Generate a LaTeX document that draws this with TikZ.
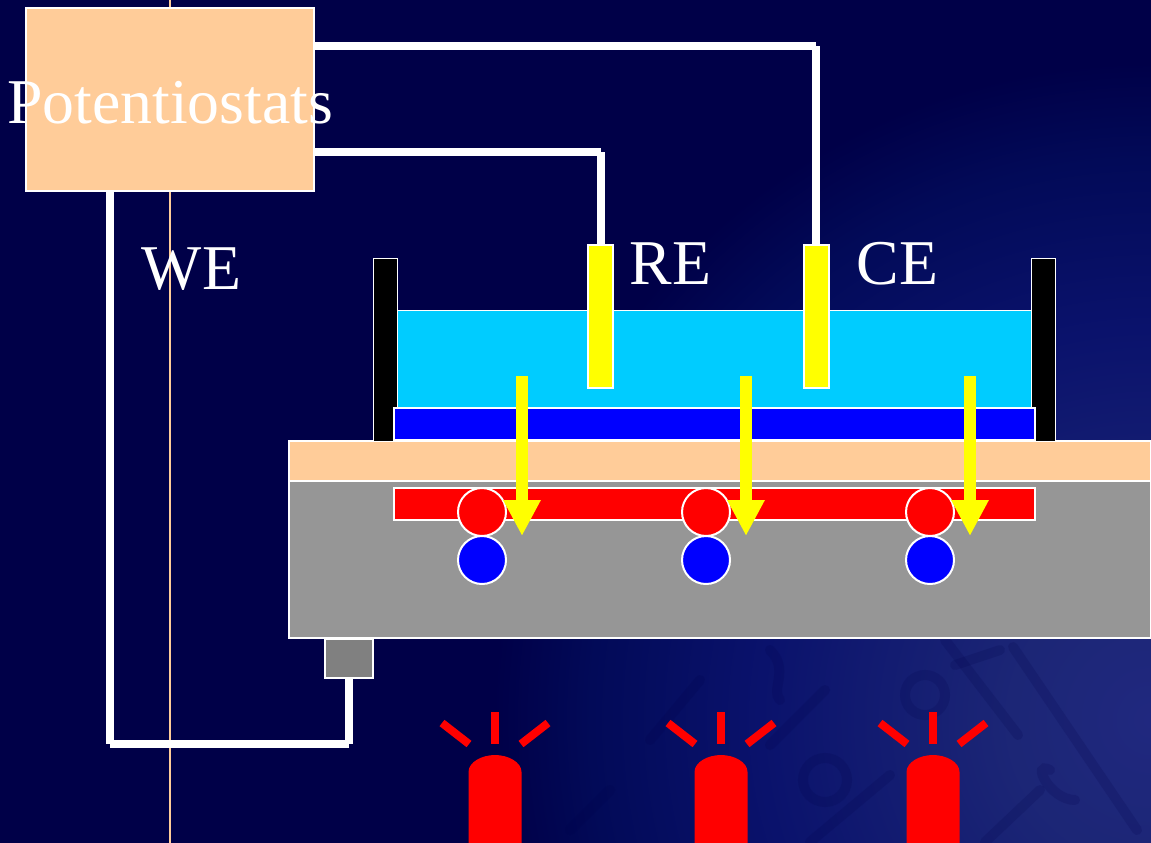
\documentclass[tikz,border=0pt]{standalone}
\usepackage{fontspec}
\setmainfont{Liberation Serif}
\usetikzlibrary{arrows.meta}
\definecolor{navy}{HTML}{000048}
\definecolor{peach}{HTML}{FFCC99}
\definecolor{slab}{HTML}{969696}
\definecolor{block}{HTML}{808080}
\definecolor{liquid}{HTML}{00CCFF}
\definecolor{pureyellow}{HTML}{FFFF00}
\definecolor{pureblue}{HTML}{0000FF}
\definecolor{pured}{HTML}{FF0000}
\definecolor{glowA}{HTML}{20287F}
\definecolor{glowB}{HTML}{1C2676}
\definecolor{glowC}{HTML}{0A126C}
\definecolor{glowD}{HTML}{020A58}
\pgfdeclareradialshading{glow}{\pgfpoint{0bp}{0bp}}{color(0bp)=(glowA); color(5bp)=(glowB); color(14bp)=(glowC); color(20bp)=(glowD); color(23.5bp)=(navy); color(50bp)=(navy)}
\begin{document}
\begin{tikzpicture}[
    x=0.02cm, y=-0.02cm,
    part/.style={draw=white, line width=0.04cm, inner sep=0, outer sep=0},
    electrode/.style={part, fill=pureyellow, minimum width=0.5cm, minimum height=2.86cm},
    wall/.style={draw=white, line width=0.02cm, fill=black, inner sep=0, minimum width=0.48cm, minimum height=3.66cm},
    layer/.style={part, minimum width=12.82cm, minimum height=0.64cm},
    ball/.style={circle, part, minimum size=0.96cm},
    label/.style={text=white, inner sep=0, anchor=base, font=\fontsize{36.3}{36}\selectfont},
    wire/.style={draw=white, line width=0.16cm},
    flow/.style={draw=pureyellow, fill=pureyellow, line width=0.24cm, -{Triangle[width=0.7cm,length=0.72cm]}},
    ray/.style={draw=pured, line width=0.16cm},
    mark line/.style={draw=navy, line width=0.2cm, opacity=0.16, line cap=round}
]
\useasboundingbox (0,0) rectangle (1151,842);
\fill[navy] (-5,-5) rectangle (1156,850);
\begin{scope}
\clip (-5,-5) rectangle (1156,850);
\shade[shading=glow] (1151,720) circle [radius=14cm];
\end{scope}

% background marks
\draw[mark line] (1013,647) -- (1137,830);
\draw[mark line] (945,640) -- (1018,735);
\draw[mark line] (955,665) -- (1000,650);
\draw[mark line] (825,690) -- (770,745);
\draw[mark line] (890,775) -- (810,842);
\draw[mark line] (1040,790) -- (985,842);
\draw[mark line] (770,650) .. controls (790,670) and (770,690) .. (780,700);
\draw[mark line] (825,780) circle [radius=0.44cm];
\draw[mark line] (925,695) circle [radius=0.4cm];
\draw[mark line] (1050,770) .. controls (1030,760) and (1050,800) .. (1075,800);
\draw[mark line] (700,680) -- (650,740);
\draw[mark line] (610,790) -- (570,830);

\draw[peach, line width=0.03cm] (170,-5) -- (170,850);

% cell body
\node[part, fill=slab, minimum width=17.24cm, minimum height=3.14cm, anchor=north west] (body) at (289,481) {};
\node[part, fill=peach, minimum width=17.24cm, minimum height=0.8cm, anchor=north west] (glass) at (289,441) {};
\node[part, fill=block, line width=0.03cm, minimum width=0.96cm, minimum height=0.78cm, anchor=north west] (contact) at (325,639) {};
\node[wall, anchor=north west] (wallL) at (373,258) {};
\node[wall, anchor=north west] (wallR) at (1031,258) {};
\node[draw=white, line width=0.02cm, fill=liquid, inner sep=0, minimum width=12.68cm, minimum height=1.96cm, anchor=north west] (liquid) at (397,310) {};
\node[layer, fill=pureblue, anchor=north west] (film) at (394,408) {};
\node[layer, fill=pured, anchor=north west] (active) at (394,488) {};

% wires
\coordinate (cornerCE) at (816,46);
\coordinate (cornerRE) at (600.5,152);
\coordinate (startWE) at (110,191);
\coordinate (cornerA) at (110,744);
\coordinate (cornerB) at (349,744);
\draw[wire] (314,46) -- (cornerCE);
\draw[wire] (cornerCE) -- (816,245);
\draw[wire] (314,152) -- (cornerRE);
\draw[wire] (cornerRE) -- (600.5,245);
\draw[wire] (startWE) -- (cornerA);
\draw[wire] (cornerA) -- (cornerB);
\draw[wire] (cornerB) -- (349,678);

% electrodes
\node[electrode, anchor=north west] (re) at (588,245) {};
\node[electrode, anchor=north west] (ce) at (804,245) {};

% potentiostat
\node[part, line width=0.03cm, fill=peach, minimum width=5.76cm, minimum height=3.66cm, anchor=north west] (pot) at (26,8) {};
\node[label] (potlabel) at (170,123) {Potentiostats};
\node[label] (we) at (191.5,289) {WE};
\node[label] (relabel) at (670.5,284) {RE};
\node[label] (celabel) at (897.5,284) {CE};

% balls and arrows
\foreach \x/\n in {482/a,706/b,930/c} {
    \node[ball, fill=pured] (hole\n) at (\x,512) {};
    \node[ball, fill=pureblue] (elec\n) at (\x,560) {};
    \coordinate (from\n) at (\x+40,376);
    \coordinate (to\n) at (\x+40,536);
    \draw[flow] (from\n) -- (to\n);
}

% alarms
\foreach \x in {495,721,933} {
    \fill[pured] (\x-26.5,850) -- (\x-26.5,772) .. controls (\x-26.5,762) and (\x-13,755) .. (\x,755)
        .. controls (\x+13,755) and (\x+26.5,762) .. (\x+26.5,772) -- (\x+26.5,850) -- cycle;
    \draw[ray] (\x,712) -- (\x,744);
    \draw[ray] (\x-53,723) -- (\x-26,744);
    \draw[ray] (\x+53,723) -- (\x+26,744);
}
\end{tikzpicture}
\end{document}
